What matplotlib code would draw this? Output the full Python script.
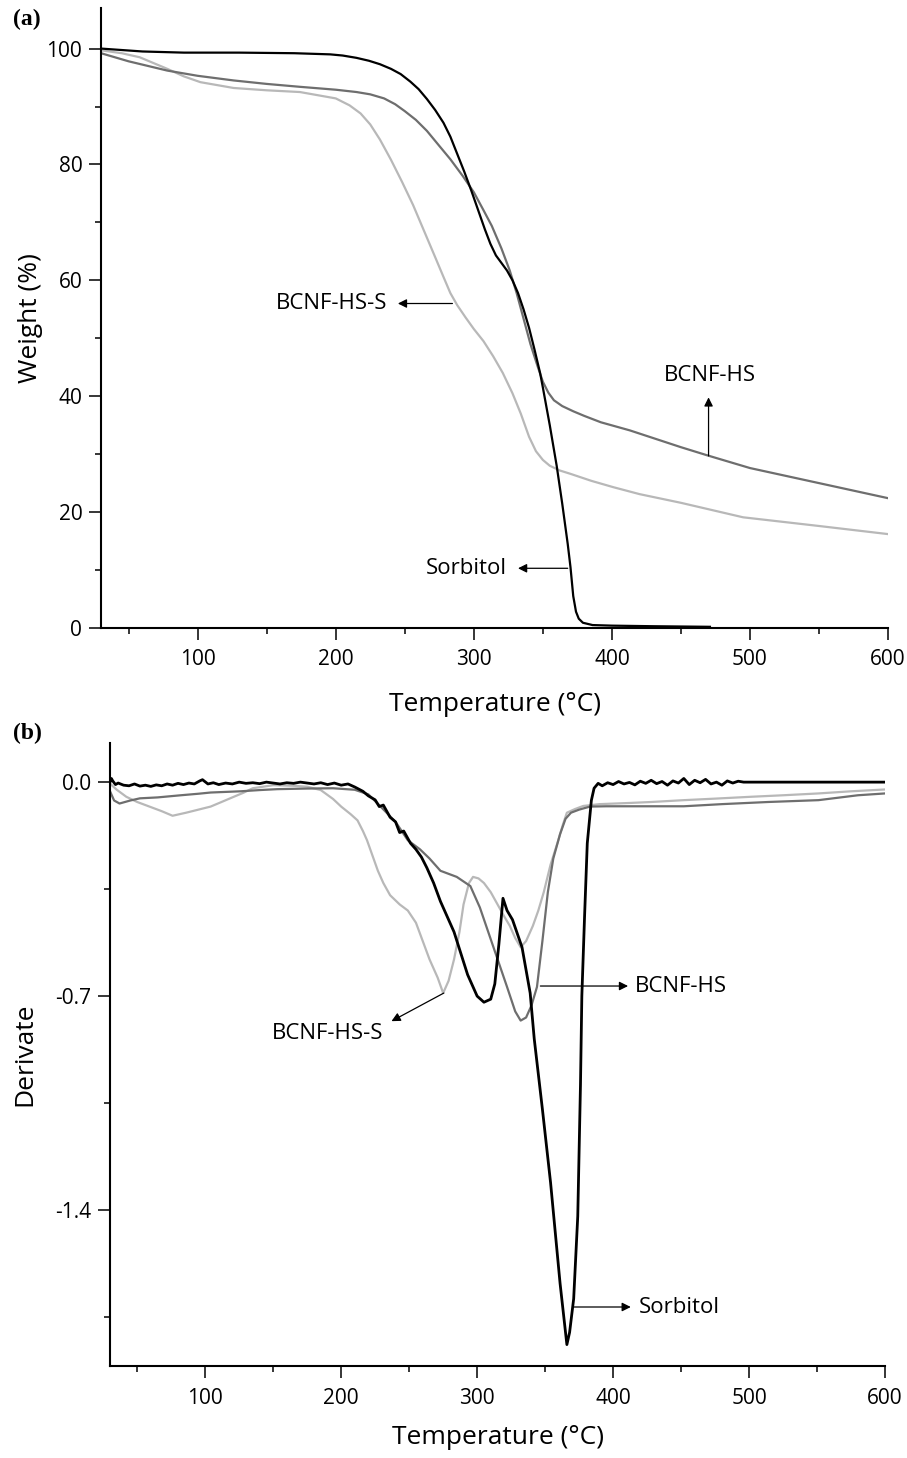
import numpy as np
import matplotlib
matplotlib.use('Agg')
import matplotlib.pyplot as plt
from matplotlib.ticker import MultipleLocator, FixedLocator

plt.rcParams['font.family'] = ['Open Sans', 'DejaVu Sans']

# (a) TGA weight curves
sorb_t = [30, 60, 90, 130, 170, 196, 205, 215, 224, 232, 240, 247, 254, 260, 266, 272, 278, 283,
          288, 293, 298, 303, 308, 312, 316, 320, 324, 328, 332, 336, 340, 344, 348, 350, 355,
          360, 364, 368, 370, 372, 374, 376, 379, 386, 400, 430, 471]
sorb_w = [100, 99.5, 99.3, 99.3, 99.2, 99.0, 98.8, 98.4, 97.9, 97.3, 96.5, 95.6, 94.3, 93.0, 91.3,
          89.4, 87.2, 84.8, 81.8, 78.8, 75.6, 72.2, 68.8, 66.3, 64.3, 63.0, 61.7, 60.0, 57.8, 55.0,
          51.8, 48.0, 44.0, 41.5, 35.0, 28.0, 21.5, 14.5, 10.5, 5.5, 2.8, 1.6, 0.9, 0.5, 0.4, 0.3, 0.2]

hs_t = [30, 50, 78, 100, 126, 150, 174, 200, 215, 225, 235, 243, 250, 258, 266, 275, 283, 292,
        300, 307, 313, 320, 326, 331, 336, 341, 346, 350, 354, 358, 364, 372, 380, 392, 413, 450,
        469, 500, 550, 600]
hs_w = [99.2, 97.8, 96.2, 95.3, 94.5, 93.9, 93.4, 92.9, 92.5, 92.1, 91.4, 90.4, 89.2, 87.7, 85.8,
        83.2, 80.9, 78.0, 75.2, 72.1, 69.4, 65.5, 61.7, 57.8, 53.4, 49.0, 45.3, 42.5, 40.6, 39.3,
        38.3, 37.4, 36.6, 35.5, 34.1, 31.2, 29.8, 27.6, 25.0, 22.4]

hss_t = [30, 45, 58, 70, 78, 90, 102, 126, 150, 174, 200, 210, 218, 225, 232, 240, 248, 256, 264,
         272, 278, 283, 288, 294, 300, 307, 314, 321, 328, 334, 340, 345, 350, 355, 362, 370, 385,
         401, 420, 450, 495, 550, 600]
hss_w = [99.7, 99.2, 98.5, 97.3, 96.5, 95.2, 94.2, 93.2, 92.8, 92.5, 91.4, 90.2, 88.8, 86.9, 84.3,
         80.8, 77.0, 73.0, 68.5, 64.0, 60.6, 57.8, 55.7, 53.6, 51.6, 49.5, 46.9, 44.0, 40.5, 37.0,
         33.0, 30.5, 29.0, 28.0, 27.2, 26.6, 25.4, 24.3, 23.1, 21.6, 19.1, 17.6, 16.2]

# (b) derivative curves
dsorb_t = [30, 31, 32, 34, 36, 40, 44, 48, 52, 56, 60, 64, 68, 72, 76, 80, 84, 88, 92, 96, 98,
           100, 102, 106, 110, 115, 120, 125, 130, 135, 140, 145, 150, 155, 160, 165, 170, 175,
           180, 185, 190, 195, 200, 205, 210, 216, 220, 225, 228, 231, 236, 240, 243, 246, 251,
           255, 259, 263, 268, 273, 278, 283, 288, 293, 300, 305, 310, 313, 316, 319, 322, 326,
           333, 339, 342, 348, 354, 361, 364, 366, 368, 371, 374, 376, 377, 379, 381, 384, 386,
           389, 392, 396, 400, 404, 408, 412, 416, 420, 424, 428, 432, 436, 440, 444, 448, 452,
           456, 460, 464, 468, 472, 476, 480, 484, 488, 492, 496, 520, 560, 600]
dsorb_d = [0.0, 0.012, 0.004, -0.008, -0.003, -0.01, -0.012, -0.006, -0.013, -0.01, -0.014,
           -0.009, -0.012, -0.006, -0.01, -0.004, -0.008, -0.003, -0.006, 0.004, 0.008, 0.001,
           -0.006, -0.002, -0.008, -0.003, -0.006, 0.0, -0.004, -0.002, -0.005, 0.0, -0.003,
           -0.006, -0.002, -0.004, 0.0, -0.003, -0.006, -0.002, -0.008, -0.003, -0.01, -0.006,
           -0.016, -0.03, -0.045, -0.058, -0.08, -0.075, -0.115, -0.13, -0.165, -0.16, -0.2,
           -0.22, -0.245, -0.28, -0.33, -0.39, -0.44, -0.49, -0.56, -0.63, -0.70, -0.72, -0.71,
           -0.66, -0.53, -0.38, -0.42, -0.45, -0.54, -0.69, -0.84, -1.07, -1.31, -1.64, -1.76,
           -1.84, -1.80, -1.69, -1.42, -0.99, -0.70, -0.44, -0.20, -0.06, -0.02, -0.004, -0.012,
           -0.002, -0.008, 0.002, -0.006, -0.001, -0.009, 0.003, -0.004, 0.006, -0.005, 0.002,
           -0.01, 0.004, -0.003, 0.012, -0.008, 0.006, -0.002, 0.009, -0.006, 0.0, -0.01, 0.004,
           -0.003, 0.003, 0.0, 0.0, 0.0, 0.0]

dhs_t = [30, 33, 37, 45, 52, 65, 82, 95, 104, 115, 126, 140, 153, 175, 194, 210, 220, 229, 240,
         249, 258, 265, 273, 285, 295, 302, 312, 322, 328, 332, 336, 340, 344, 348, 352, 356, 361,
         365, 369, 375, 383, 395, 420, 452, 480, 514, 551, 580, 600]
dhs_d = [-0.03, -0.06, -0.07, -0.06, -0.053, -0.05, -0.043, -0.038, -0.034, -0.032, -0.03, -0.026,
         -0.023, -0.021, -0.02, -0.025, -0.04, -0.08, -0.13, -0.19, -0.22, -0.25, -0.29, -0.31,
         -0.34, -0.41, -0.54, -0.67, -0.75, -0.78, -0.77, -0.73, -0.67, -0.52, -0.36, -0.25,
         -0.17, -0.12, -0.10, -0.09, -0.08, -0.079, -0.079, -0.079, -0.072, -0.065, -0.059,
         -0.043, -0.037]

dhss_t = [30, 35, 42, 50, 59, 68, 76, 86, 95, 104, 112, 121, 128, 135, 150, 165, 175, 185, 194,
          200, 207, 212, 216, 219, 223, 227, 231, 236, 243, 249, 255, 260, 265, 271, 275, 279,
          283, 287, 290, 294, 297, 301, 305, 310, 315, 320, 324, 328, 332, 336, 341, 345, 349,
          354, 359, 363, 366, 372, 378, 390, 413, 428, 452, 475, 501, 525, 551, 575, 600]
dhss_d = [-0.005, -0.025, -0.048, -0.065, -0.08, -0.095, -0.11, -0.10, -0.09, -0.08, -0.065,
          -0.048, -0.035, -0.02, -0.01, -0.012, -0.015, -0.026, -0.055, -0.08, -0.105, -0.125,
          -0.16, -0.19, -0.24, -0.29, -0.33, -0.37, -0.40, -0.42, -0.46, -0.52, -0.58, -0.64,
          -0.69, -0.65, -0.58, -0.49, -0.40, -0.33, -0.31, -0.315, -0.33, -0.36, -0.40, -0.44,
          -0.47, -0.51, -0.54, -0.52, -0.47, -0.42, -0.36, -0.27, -0.20, -0.14, -0.10, -0.088,
          -0.078, -0.072, -0.068, -0.065, -0.059, -0.054, -0.048, -0.043, -0.037, -0.03, -0.024]

c_sorb = '#000000'
c_hs = '#6e6e6e'
c_hss = '#b8b8b8'

fig = plt.figure(figsize=(9.07, 14.58), dpi=100)
ax1 = fig.add_axes([0.1114, 0.5693, 0.8677, 0.4252])
ax2 = fig.add_axes([0.1213, 0.0631, 0.8545, 0.4273])

arrow = dict(arrowstyle='-|>', color='k', lw=0.9, mutation_scale=13, shrinkA=0, shrinkB=0)


def style(ax):
    for s in ['top', 'right']:
        ax.spines[s].set_visible(False)
    for s in ['left', 'bottom']:
        ax.spines[s].set_linewidth(1.5)
    ax.tick_params(which='major', direction='out', length=8.5, width=1.1, labelsize=15, pad=5)
    ax.tick_params(which='minor', direction='out', length=4.5, width=1.1)
    ax.tick_params(axis='x', which='major', pad=7)
    ax.xaxis.set_major_locator(MultipleLocator(100))
    ax.xaxis.set_minor_locator(MultipleLocator(50))
    ax.set_xlim(30, 600)


# ---- panel (a)
ax1.plot(hss_t, hss_w, color=c_hss, lw=1.6)
ax1.plot(hs_t, hs_w, color=c_hs, lw=1.6)
ax1.plot(sorb_t, sorb_w, color=c_sorb, lw=1.6)
style(ax1)
ax1.set_ylim(0, 107)
ax1.yaxis.set_major_locator(FixedLocator([0, 20, 40, 60, 80, 100]))
ax1.yaxis.set_minor_locator(FixedLocator([10, 30, 50, 70, 90]))
ax1.set_ylabel('Weight (%)', fontsize=19)
ax1.set_xlabel('Temperature (°C)', fontsize=19)
ax1.yaxis.set_label_coords(-0.090, 0.5)
ax1.xaxis.set_label_coords(0.5, -0.124)
ax1.xaxis.label.set_va('center')
ax1.yaxis.label.set_va('center')

ax1.text(197, 56.0, 'BCNF-HS-S', fontsize=16, ha='center', va='center')
ax1.annotate('', xy=(245, 56.0), xytext=(284.5, 56.0), arrowprops=arrow)
ax1.text(294.5, 10.3, 'Sorbitol', fontsize=16, ha='center', va='center')
ax1.annotate('', xy=(332, 10.3), xytext=(368, 10.3), arrowprops=arrow)
ax1.text(471, 43.5, 'BCNF-HS', fontsize=16, ha='center', va='center')
ax1.annotate('', xy=(470, 39.8), xytext=(470, 29.7), arrowprops=arrow)

# ---- panel (b)
ax2.plot(dhss_t, dhss_d, color=c_hss, lw=1.6)
ax2.plot(dhs_t, dhs_d, color=c_hs, lw=1.6)
ax2.plot(dsorb_t, dsorb_d, color=c_sorb, lw=2.0)
style(ax2)
ax2.set_ylim(-1.91, 0.128)
ax2.yaxis.set_major_locator(FixedLocator([0.0, -0.7, -1.4]))
ax2.yaxis.set_minor_locator(FixedLocator([-0.35, -1.05, -1.75]))
ax2.set_yticklabels(['0.0', '-0.7', '-1.4'])
ax2.set_ylabel('Derivate', fontsize=19)
ax2.set_xlabel('Temperature (°C)', fontsize=19)
ax2.yaxis.set_label_coords(-0.110, 0.5)
ax2.xaxis.set_label_coords(0.5, -0.114)
ax2.xaxis.label.set_va('center')
ax2.yaxis.label.set_va('center')

ax2.text(190, -0.821, 'BCNF-HS-S', fontsize=16, ha='center', va='center')
ax2.annotate('', xy=(237, -0.782), xytext=(275.5, -0.690), arrowprops=arrow)
ax2.text(416, -0.667, 'BCNF-HS', fontsize=16, ha='left', va='center')
ax2.annotate('', xy=(411, -0.667), xytext=(346.5, -0.667), arrowprops=arrow)
ax2.text(419, -1.717, 'Sorbitol', fontsize=16, ha='left', va='center')
ax2.annotate('', xy=(413, -1.717), xytext=(371, -1.717), arrowprops=arrow)

fig.text(27 / 907, 1 - 19 / 1458, '(a)', fontsize=17, fontweight='bold',
         family='Liberation Serif', ha='center', va='center')
fig.text(27 / 907, 1 - 733 / 1458, '(b)', fontsize=17, fontweight='bold',
         family='Liberation Serif', ha='center', va='center')

fig.savefig('out.png', dpi=100)
